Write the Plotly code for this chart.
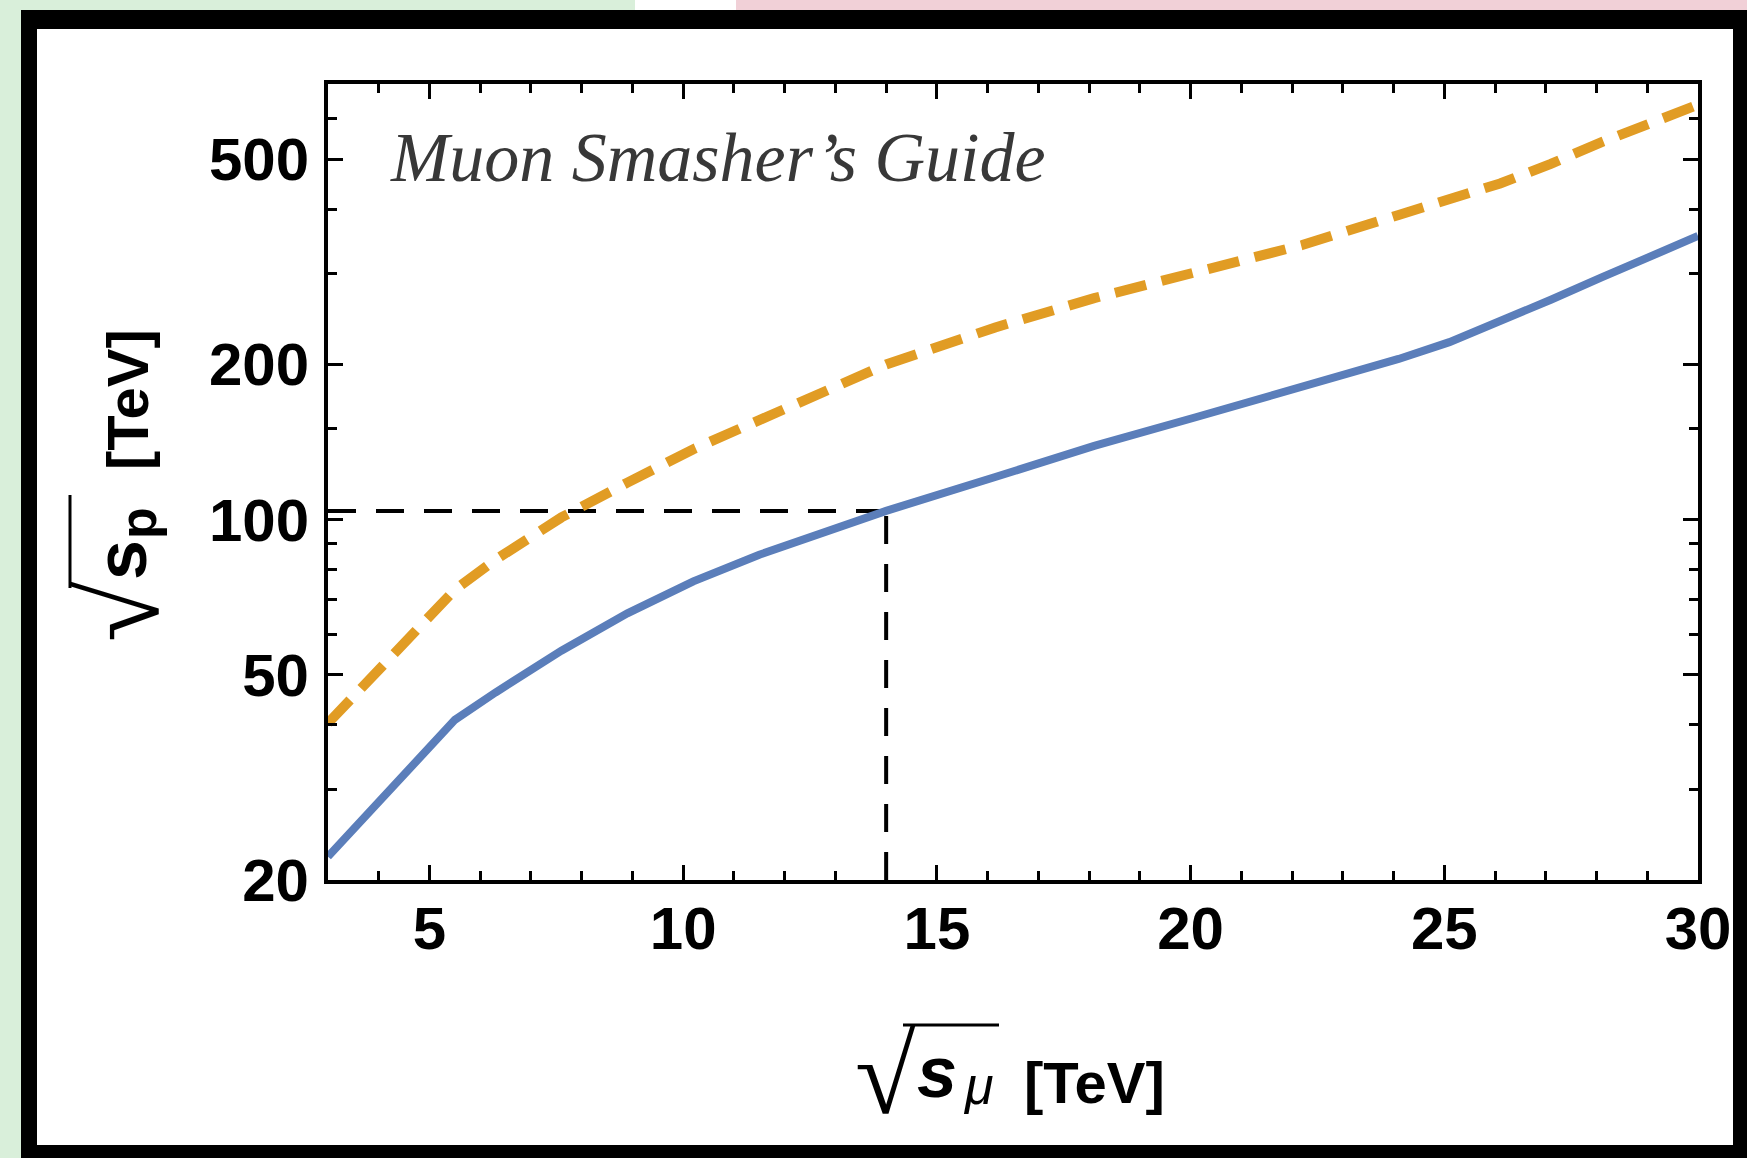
import plotly.graph_objects as go

# ---- data ----
sqrt_s_mu = [3, 4, 5, 5.5, 6.3, 7.6, 8.9, 10.2, 11.5, 12.85, 14, 16.15, 18.1, 20.1, 22.2, 24.1, 25.1, 26.1, 27.1, 28.1, 30]
sqrt_s_p_solid = [22.2, 28.3, 36.2, 40.9, 46.2, 55.7, 65.8, 75.9, 85.5, 95.0, 104, 121, 139, 158, 181, 205, 221, 242, 267, 295, 355]
sqrt_s_p_dashed = [40.3, 50.9, 64.5, 73.1, 83.6, 101, 118, 137, 156, 179, 200, 236, 269, 302, 341, 390, 417, 449, 490, 540, 638]

guide_h_x = [3, 14]
guide_h_y = [104, 104]
guide_v_x = [14, 14]
guide_v_y = [20, 104]

x_ticks = [5, 10, 15, 20, 25, 30]
x_ticktext = ["5", "10", "15", "20", "25", "30"]
x_minor = [4, 6, 7, 8, 9, 11, 12, 13, 14, 16, 17, 18, 19, 21, 22, 23, 24, 26, 27, 28, 29]
y_ticks = [20, 50, 100, 200, 500]
y_ticktext = ["20", "50", "100", "200", "500"]
y_minor = [30, 40, 60, 70, 80, 90, 150, 300, 400, 600]

title_text = "Muon Smasher\u2019s Guide"

# ---- geometry helpers (pixel -> paper) ----
W, H = 1747, 1158
L, R, T, B = 328, 1698, 84, 880


def px(x):
    return (x - L) / (R - L)


def py(y):
    return (B - y) / (B - T)


BLUE = "#5B7EBA"
ORANGE = "#E19C24"

fig = go.Figure()
fig.add_trace(go.Scatter(x=guide_h_x, y=guide_h_y, mode="lines",
                         line=dict(color="black", width=4, dash="28px,20px"), hoverinfo="skip"))
fig.add_trace(go.Scatter(x=guide_v_x, y=guide_v_y, mode="lines",
                         line=dict(color="black", width=4, dash="28px,20px"), hoverinfo="skip"))
fig.add_trace(go.Scatter(x=sqrt_s_mu, y=sqrt_s_p_dashed, mode="lines",
                         line=dict(color=ORANGE, width=10, dash="32px,16px")))
fig.add_trace(go.Scatter(x=sqrt_s_mu, y=sqrt_s_p_solid, mode="lines",
                         line=dict(color=BLUE, width=8)))

tickfont = dict(family="Liberation Sans, Arial, sans-serif", size=60, color="black", weight="bold")

fig.update_xaxes(range=[3, 30], tickmode="array", tickvals=x_ticks, ticktext=x_ticktext,
                 ticks="inside", ticklen=15, tickwidth=3, tickcolor="black",
                 showline=True, linewidth=4, linecolor="black", mirror="ticks",
                 showgrid=False, zeroline=False, tickfont=tickfont, ticklabelstandoff=-7,
                 minor=dict(tickvals=x_minor, ticks="inside", ticklen=9, tickwidth=3,
                            tickcolor="black", showgrid=False))
fig.update_yaxes(type="log", range=[1.30103, 2.8451], tickmode="array", tickvals=y_ticks,
                 ticktext=y_ticktext, ticks="inside", ticklen=15, tickwidth=3, tickcolor="black",
                 showline=True, linewidth=4, linecolor="black", mirror="ticks",
                 showgrid=False, zeroline=False, tickfont=tickfont, ticklabelstandoff=3,
                 minor=dict(tickvals=y_minor, ticks="inside", ticklen=9, tickwidth=3,
                            tickcolor="black", showgrid=False))

GREEN = "#D9EFDA"
PINK = "#F1D0D7"
shapes = [
    dict(type="rect", xref="paper", yref="paper", x0=px(37), x1=px(1733), y0=py(29), y1=py(1145),
         fillcolor="white", line=dict(width=0), layer="below"),
    dict(type="rect", xref="paper", yref="paper", x0=px(0), x1=px(21), y0=py(0), y1=py(H),
         fillcolor=GREEN, line=dict(width=0), layer="below"),
    dict(type="rect", xref="paper", yref="paper", x0=px(0), x1=px(635), y0=py(0), y1=py(10),
         fillcolor=GREEN, line=dict(width=0), layer="below"),
    dict(type="rect", xref="paper", yref="paper", x0=px(635), x1=px(736), y0=py(0), y1=py(10),
         fillcolor="white", line=dict(width=0), layer="below"),
    dict(type="rect", xref="paper", yref="paper", x0=px(736), x1=px(W), y0=py(0), y1=py(10),
         fillcolor=PINK, line=dict(width=0), layer="below"),
    # radical overlines of axis titles
    dict(type="line", xref="paper", yref="paper", x0=px(903), x1=px(999), y0=py(1025), y1=py(1025),
         line=dict(color="black", width=3)),
    dict(type="line", xref="paper", yref="paper", x0=px(70), x1=px(70), y0=py(495), y1=py(588),
         line=dict(color="black", width=3)),
]

sans = "Liberation Sans, Arial, sans-serif"
rad_font = dict(family="DejaVu Sans", size=110, color="black", weight=200)
annotations = [
    dict(text="<i>" + title_text + "</i>", x=px(388), y=py(157), xref="paper", yref="paper",
         xanchor="left", yanchor="middle", showarrow=False,
         font=dict(family="Liberation Serif, Times New Roman, serif", size=70, color="#383838")),
    # x title
    dict(text="\u221A", x=px(885), y=py(1075), xref="paper", yref="paper", xanchor="center",
         yanchor="middle", showarrow=False, font=rad_font),
    dict(text="<b><i>s</i></b>", x=px(937), y=py(1072), xref="paper", yref="paper",
         xanchor="center", yanchor="middle", showarrow=False, font=dict(family=sans, size=72, color="black")),
    dict(text="<i>\u03bc</i>", x=px(978), y=py(1086), xref="paper", yref="paper",
         xanchor="center", yanchor="middle", showarrow=False, font=dict(family=sans, size=52, color="black")),
    dict(text="<b>[TeV]</b>", x=px(1094), y=py(1082), xref="paper", yref="paper", xanchor="center",
         yanchor="middle", showarrow=False, font=dict(family=sans, size=58, color="black")),
    # y title
    dict(text="\u221A", x=px(120), y=py(612), xref="paper", yref="paper", xanchor="center",
         yanchor="middle", showarrow=False, textangle=-90, font=rad_font),
    dict(text="<b>s</b>", x=px(121), y=py(560), xref="paper", yref="paper",
         xanchor="center", yanchor="middle", showarrow=False, textangle=-90,
         font=dict(family=sans, size=72, color="black")),
    dict(text="<b>p</b>", x=px(138), y=py(523), xref="paper", yref="paper",
         xanchor="center", yanchor="middle", showarrow=False, textangle=-90,
         font=dict(family=sans, size=52, color="black")),
    dict(text="<b>[TeV]</b>", x=px(127), y=py(400), xref="paper", yref="paper", xanchor="center",
         yanchor="middle", showarrow=False, textangle=-90,
         font=dict(family=sans, size=58, color="black")),
]

fig.update_layout(width=W, height=H, margin=dict(l=L, r=W - R, t=T, b=H - B, pad=0),
                  paper_bgcolor="black", plot_bgcolor="white", showlegend=False,
                  shapes=shapes, annotations=annotations)

fig.write_html("out.html", config={"displayModeBar": False},
               post_script="document.body.style.margin='0px';document.body.style.overflow='hidden';")
